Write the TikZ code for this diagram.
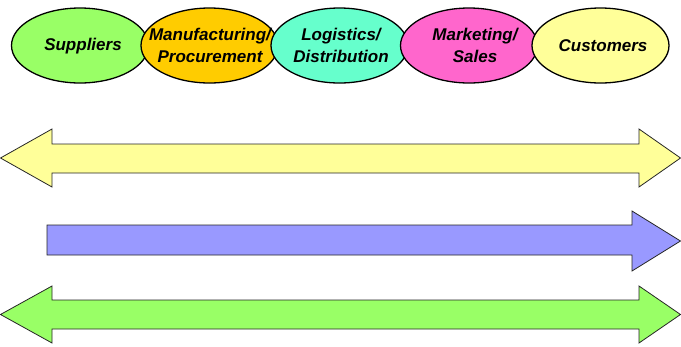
\documentclass[tikz,border=0pt]{standalone}
\usepackage{fontspec}
\setmainfont{Liberation Sans}
\usetikzlibrary{shapes.geometric}
\definecolor{cgreen}{RGB}{153,255,102}
\definecolor{corange}{RGB}{255,204,0}
\definecolor{cteal}{RGB}{102,255,204}
\definecolor{cpink}{RGB}{255,102,204}
\definecolor{cyellow}{RGB}{255,255,153}
\definecolor{cblue}{RGB}{153,153,255}
\tikzset{
  oval/.style={ellipse, draw=black, line width=1.3pt, minimum width=137pt, minimum height=75pt, inner sep=0pt},
  lbl/.style={align=center, font=\fontsize{17}{22}\selectfont\bfseries\itshape, inner sep=0pt},
  bigarrow/.style={draw=black!85, line width=0.8pt, line join=miter}
}
\begin{document}
\begin{tikzpicture}[x=1pt,y=-1pt]
\useasboundingbox (0,0) rectangle (681,346);
\node[oval, fill=cgreen] (sup) at (80,45.5) {};
\node[lbl] (supt) at (83,46) {Suppliers};
\node[oval, fill=corange] (man) at (209.5,45.5) {};
\node[lbl] (mant) at (210,45) {Manufacturing/\\Procurement};
\node[oval, fill=cteal] (log) at (339.5,45.5) {};
\node[lbl] (logt) at (341,45) {Logistics/\\Distribution};
\node[oval, fill=cpink] (mar) at (469,45.5) {};
\node[lbl] (mart) at (475,45) {Marketing/\\Sales};
\node[oval, fill=cyellow] (cus) at (600.5,45.5) {};
\node[lbl] (cust) at (603,46) {Customers};
% yellow double arrow
\draw[bigarrow, fill=cyellow] (0.5,158) -- (52,129) -- (52,144) -- (639,144) -- (639,129) -- (680.5,158) -- (639,187) -- (639,173) -- (52,173) -- (52,187) -- cycle;
% blue arrow
\draw[bigarrow, fill=cblue] (47,225) -- (632,225) -- (632,211) -- (680.5,241) -- (632,271) -- (632,255) -- (47,255) -- cycle;
% green double arrow
\draw[bigarrow, fill=cgreen] (0.5,314.5) -- (52,286) -- (52,300) -- (639,300) -- (639,286) -- (680.5,314.5) -- (639,343) -- (639,329) -- (52,329) -- (52,343) -- cycle;
\end{tikzpicture}
\end{document}
